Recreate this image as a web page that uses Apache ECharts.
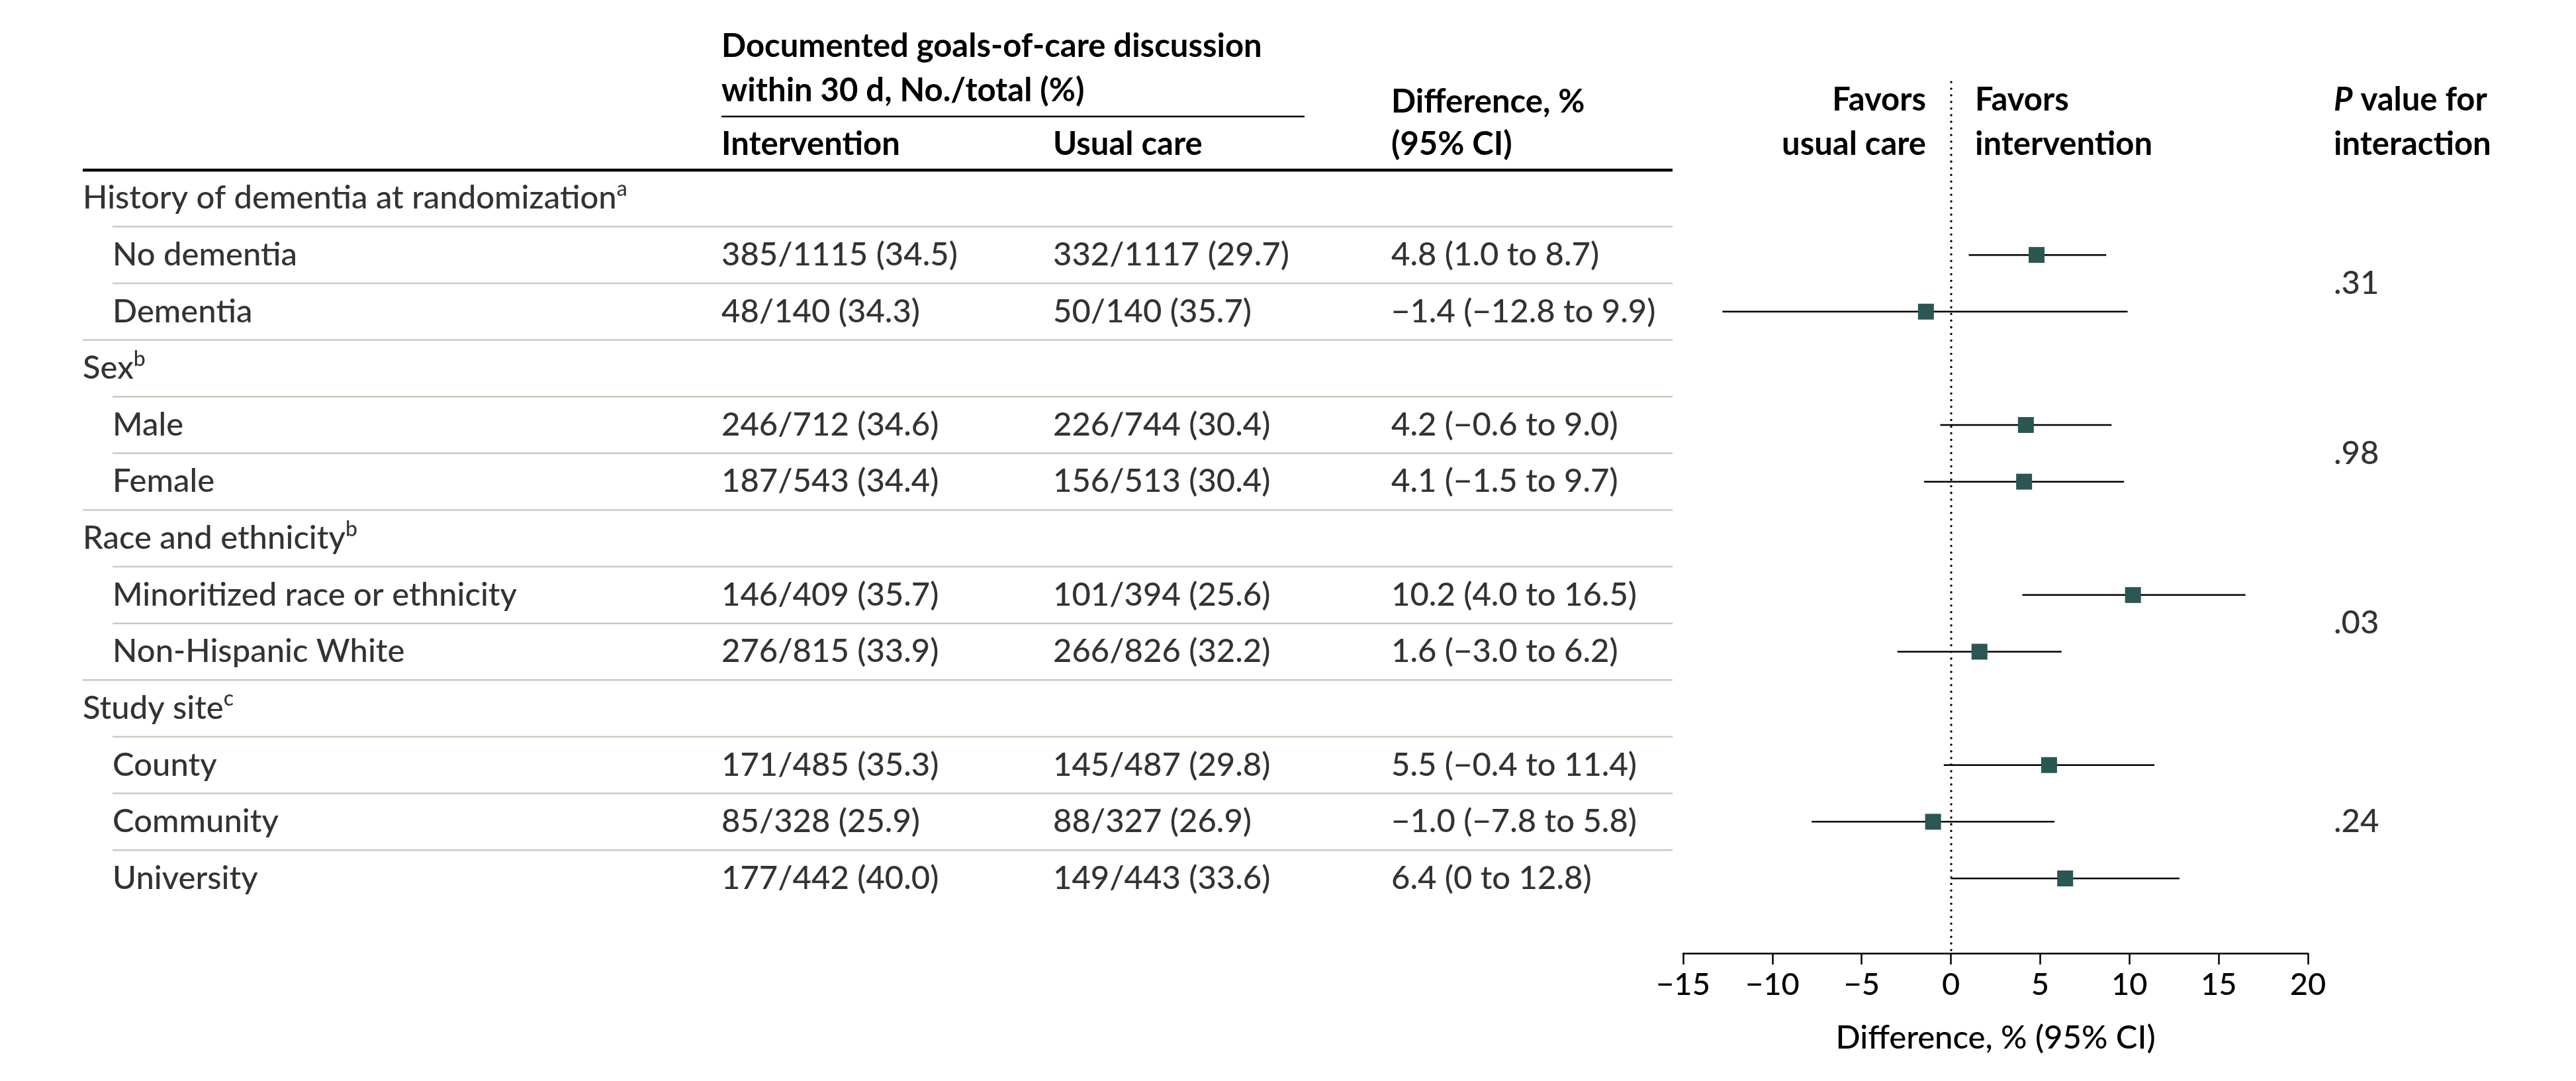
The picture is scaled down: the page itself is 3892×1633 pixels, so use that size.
<!DOCTYPE html>
<html><head><meta charset="utf-8">
<script src="https://cdn.jsdelivr.net/npm/echarts@6/dist/echarts.min.js"></script>
<style>html,body{margin:0;padding:0;background:#fff}#c{width:3892px;height:1633px}</style>
</head><body><div id="c"></div>
<script>
// ---------------- DATA ----------------
const rowNames = ['History of dementia at randomization', 'No dementia', 'Dementia', 'Sex', 'Male', 'Female',
  'Race and ethnicity', 'Minoritized race or ethnicity', 'Non-Hispanic White', 'Study site', 'County', 'Community', 'University'];
const rowIsGroup = [1, 0, 0, 1, 0, 0, 1, 0, 0, 1, 0, 0, 0];
const rowSup = ['a', '', '', 'b', '', '', 'b', '', '', 'c', '', '', ''];
const interventionText = ['', '385/1115 (34.5)', '48/140 (34.3)', '', '246/712 (34.6)', '187/543 (34.4)', '',
  '146/409 (35.7)', '276/815 (33.9)', '', '171/485 (35.3)', '85/328 (25.9)', '177/442 (40.0)'];
const usualCareText = ['', '332/1117 (29.7)', '50/140 (35.7)', '', '226/744 (30.4)', '156/513 (30.4)', '',
  '101/394 (25.6)', '266/826 (32.2)', '', '145/487 (29.8)', '88/327 (26.9)', '149/443 (33.6)'];
const diffEst = [null, 4.8, -1.4, null, 4.2, 4.1, null, 10.2, 1.6, null, 5.5, -1.0, 6.4];
const ciLow = [null, 1.0, -12.8, null, -0.6, -1.5, null, 4.0, -3.0, null, -0.4, -7.8, 0];
const ciHigh = [null, 8.7, 9.9, null, 9.0, 9.7, null, 16.5, 6.2, null, 11.4, 5.8, 12.8];
const pValues = ['.31', '.98', '.03', '.24'];
const xTickMin = -15, xTickMax = 20, xTickStep = 5;

// ---------------- LAYOUT ----------------
const FONT = 'Lato';
const FS = 49;
const BODY_W = 500;
const GRID_TOP = 124, GRID_H = 1316;
const Y_MIN = -2.05, Y_MAX = 13.32;
const X_GROUP = 125, X_SUB = 170, X_INT = 1090, X_UC = 1591, X_DIFF = 2102, X_P = 3526, X_RULE_END = 2527;
const TEAL = '#2b5654';
const SEP = '#c9ccbe';

const fmtNum = v => {
  const s = (v === 0) ? '0' : Math.abs(v).toFixed(1);
  return (v < 0 ? '\u2212' : '') + s;
};
function diffString(i) {
  if (diffEst[i] == null) return '';
  return fmtNum(diffEst[i]) + ' (' + fmtNum(ciLow[i]) + ' to ' + fmtNum(ciHigh[i]) + ')';
}

const richBody = {
  n: { fontFamily: FONT, fontSize: FS, fontWeight: BODY_W, color: '#000', lineHeight: 60 },
  s: { fontFamily: FONT, fontSize: 32, fontWeight: BODY_W, color: '#000', lineHeight: 32, verticalAlign: 'top' }
};

// text items in table grid
const textData = [];
rowNames.forEach((name, i) => {
  const lab = rowSup[i] ? '{n|' + name + '}{s|' + rowSup[i] + '}' : '{n|' + name + '}';
  textData.push([rowIsGroup[i] ? X_GROUP : X_SUB, i, lab]);
  if (interventionText[i]) textData.push([X_INT, i, '{n|' + interventionText[i] + '}']);
  if (usualCareText[i]) textData.push([X_UC, i, '{n|' + usualCareText[i] + '}']);
  const d = diffString(i);
  if (d) textData.push([X_DIFF, i, '{n|' + d + '}']);
});
// p-values centered on each group's subrows
const groupStarts = rowIsGroup.map((g, i) => g ? i : -1).filter(i => i >= 0);
groupStarts.forEach((gs, gi) => {
  const end = gi + 1 < groupStarts.length ? groupStarts[gi + 1] : rowNames.length;
  const subs = [];
  for (let k = gs + 1; k < end; k++) subs.push(k);
  const mid = subs.reduce((a, b) => a + b, 0) / subs.length;
  textData.push([X_P, mid, '{n|' + pValues[gi] + '}']);
});

// separators between rows
const sepData = [];
for (let i = 0; i < rowNames.length - 1; i++) {
  sepData.push([rowIsGroup[i + 1] ? X_GROUP : X_SUB, X_RULE_END, i + 0.5]);
}

const ciData = [], estData = [];
diffEst.forEach((v, i) => {
  if (v == null) return;
  ciData.push([ciLow[i], ciHigh[i], i]);
  estData.push([v, i]);
});

const chart = echarts.init(document.getElementById('c'), null, { renderer: 'canvas' });

const hdr = (text, x, y, align) => ({
  type: 'text', x: x, y: y, silent: true,
  style: { text: text, fontFamily: FONT, fontSize: FS, fontWeight: 700, fill: '#000',
    align: align || 'left', verticalAlign: 'middle' }
});

const option = {
  animation: false,
  backgroundColor: '#fff',
  textStyle: { fontFamily: FONT },
  grid: [
    { left: 2543, width: 944, top: GRID_TOP, height: GRID_H, containLabel: false },
    { left: 0, width: 3892, top: GRID_TOP, height: GRID_H, containLabel: false }
  ],
  xAxis: [
    {
      gridIndex: 0, type: 'value', min: xTickMin, max: xTickMax, interval: xTickStep,
      position: 'bottom',
      axisLine: { show: true, onZero: false, lineStyle: { color: '#000', width: 2.5 } },
      axisTick: { show: true, inside: false, length: 17, lineStyle: { color: '#000', width: 2.5 } },
      axisLabel: { show: true, color: '#000', fontFamily: FONT, fontSize: 47, fontWeight: BODY_W, margin: 24,
        formatter: v => String(v).replace('-', '\u2212') },
      splitLine: { show: false },
      name: 'Difference, % (95% CI)', nameLocation: 'middle', nameGap: 104,
      nameTextStyle: { color: '#000', fontFamily: FONT, fontSize: FS, fontWeight: BODY_W }
    },
    { gridIndex: 1, type: 'value', min: 0, max: 3892, show: false }
  ],
  yAxis: [
    { gridIndex: 0, type: 'value', inverse: true, min: Y_MIN, max: Y_MAX, show: false },
    { gridIndex: 1, type: 'value', inverse: true, min: Y_MIN, max: Y_MAX, show: false }
  ],
  series: [
    {
      type: 'custom', xAxisIndex: 1, yAxisIndex: 1, data: sepData, silent: true, clip: false,
      renderItem: (params, api) => {
        const a = api.coord([api.value(0), api.value(2)]);
        const b = api.coord([api.value(1), api.value(2)]);
        return { type: 'line', shape: { x1: a[0], y1: a[1], x2: b[0], y2: b[1] },
          style: { stroke: SEP, lineWidth: 2.5 } };
      }
    },
    {
      type: 'scatter', xAxisIndex: 1, yAxisIndex: 1, data: textData, symbolSize: 0, silent: true, clip: false,
      label: { show: true, position: 'right', distance: 0, formatter: p => p.data[2], rich: richBody }
    },
    {
      type: 'custom', xAxisIndex: 0, yAxisIndex: 0, data: ciData, silent: true, clip: false, z: 3,
      renderItem: (params, api) => {
        const a = api.coord([api.value(0), api.value(2)]);
        const b = api.coord([api.value(1), api.value(2)]);
        return { type: 'line', shape: { x1: a[0], y1: a[1], x2: b[0], y2: b[1] },
          style: { stroke: '#000', lineWidth: 2.5 } };
      }
    },
    {
      type: 'scatter', xAxisIndex: 0, yAxisIndex: 0, data: estData, symbol: 'rect', symbolSize: 24,
      itemStyle: { color: TEAL, opacity: 1 }, silent: true, z: 4, clip: false,
      markLine: {
        silent: true, symbol: 'none', label: { show: false },
        lineStyle: { color: '#000', width: 3.5, type: [0.01, 10], cap: 'round' },
        data: [{ xAxis: 0 }]
      }
    }
  ],
  graphic: [
    hdr('Documented goals-of-care discussion', X_INT, 70),
    hdr('within 30 d, No./total (%)', X_INT, 137),
    { type: 'line', silent: true, shape: { x1: X_INT, y1: 176, x2: 1971, y2: 176 }, style: { stroke: '#000', lineWidth: 2.5 } },
    hdr('Intervention', X_INT, 218),
    hdr('Usual care', X_UC, 218),
    hdr('Difference, %', X_DIFF, 154),
    hdr('(95% CI)', X_DIFF, 218),
    { type: 'line', silent: true, shape: { x1: X_GROUP, y1: 257, x2: X_RULE_END, y2: 257 }, style: { stroke: '#000', lineWidth: 4.5 } },
    hdr('Favors', 2910, 151, 'right'),
    hdr('usual care', 2910, 218, 'right'),
    hdr('Favors', 2984, 151, 'left'),
    hdr('intervention', 2984, 218, 'left'),
    {
      type: 'text', x: X_P, y: 151, silent: true,
      style: { text: '{i|P}{b| value for}', align: 'left', verticalAlign: 'middle',
        rich: { i: { fontFamily: FONT, fontSize: FS, fontWeight: 700, fontStyle: 'italic', fill: '#000' },
                b: { fontFamily: FONT, fontSize: FS, fontWeight: 700, fill: '#000' } } }
    },
    hdr('interaction', X_P, 218)
  ]
};
chart.setOption(option);
</script>
</body></html>
